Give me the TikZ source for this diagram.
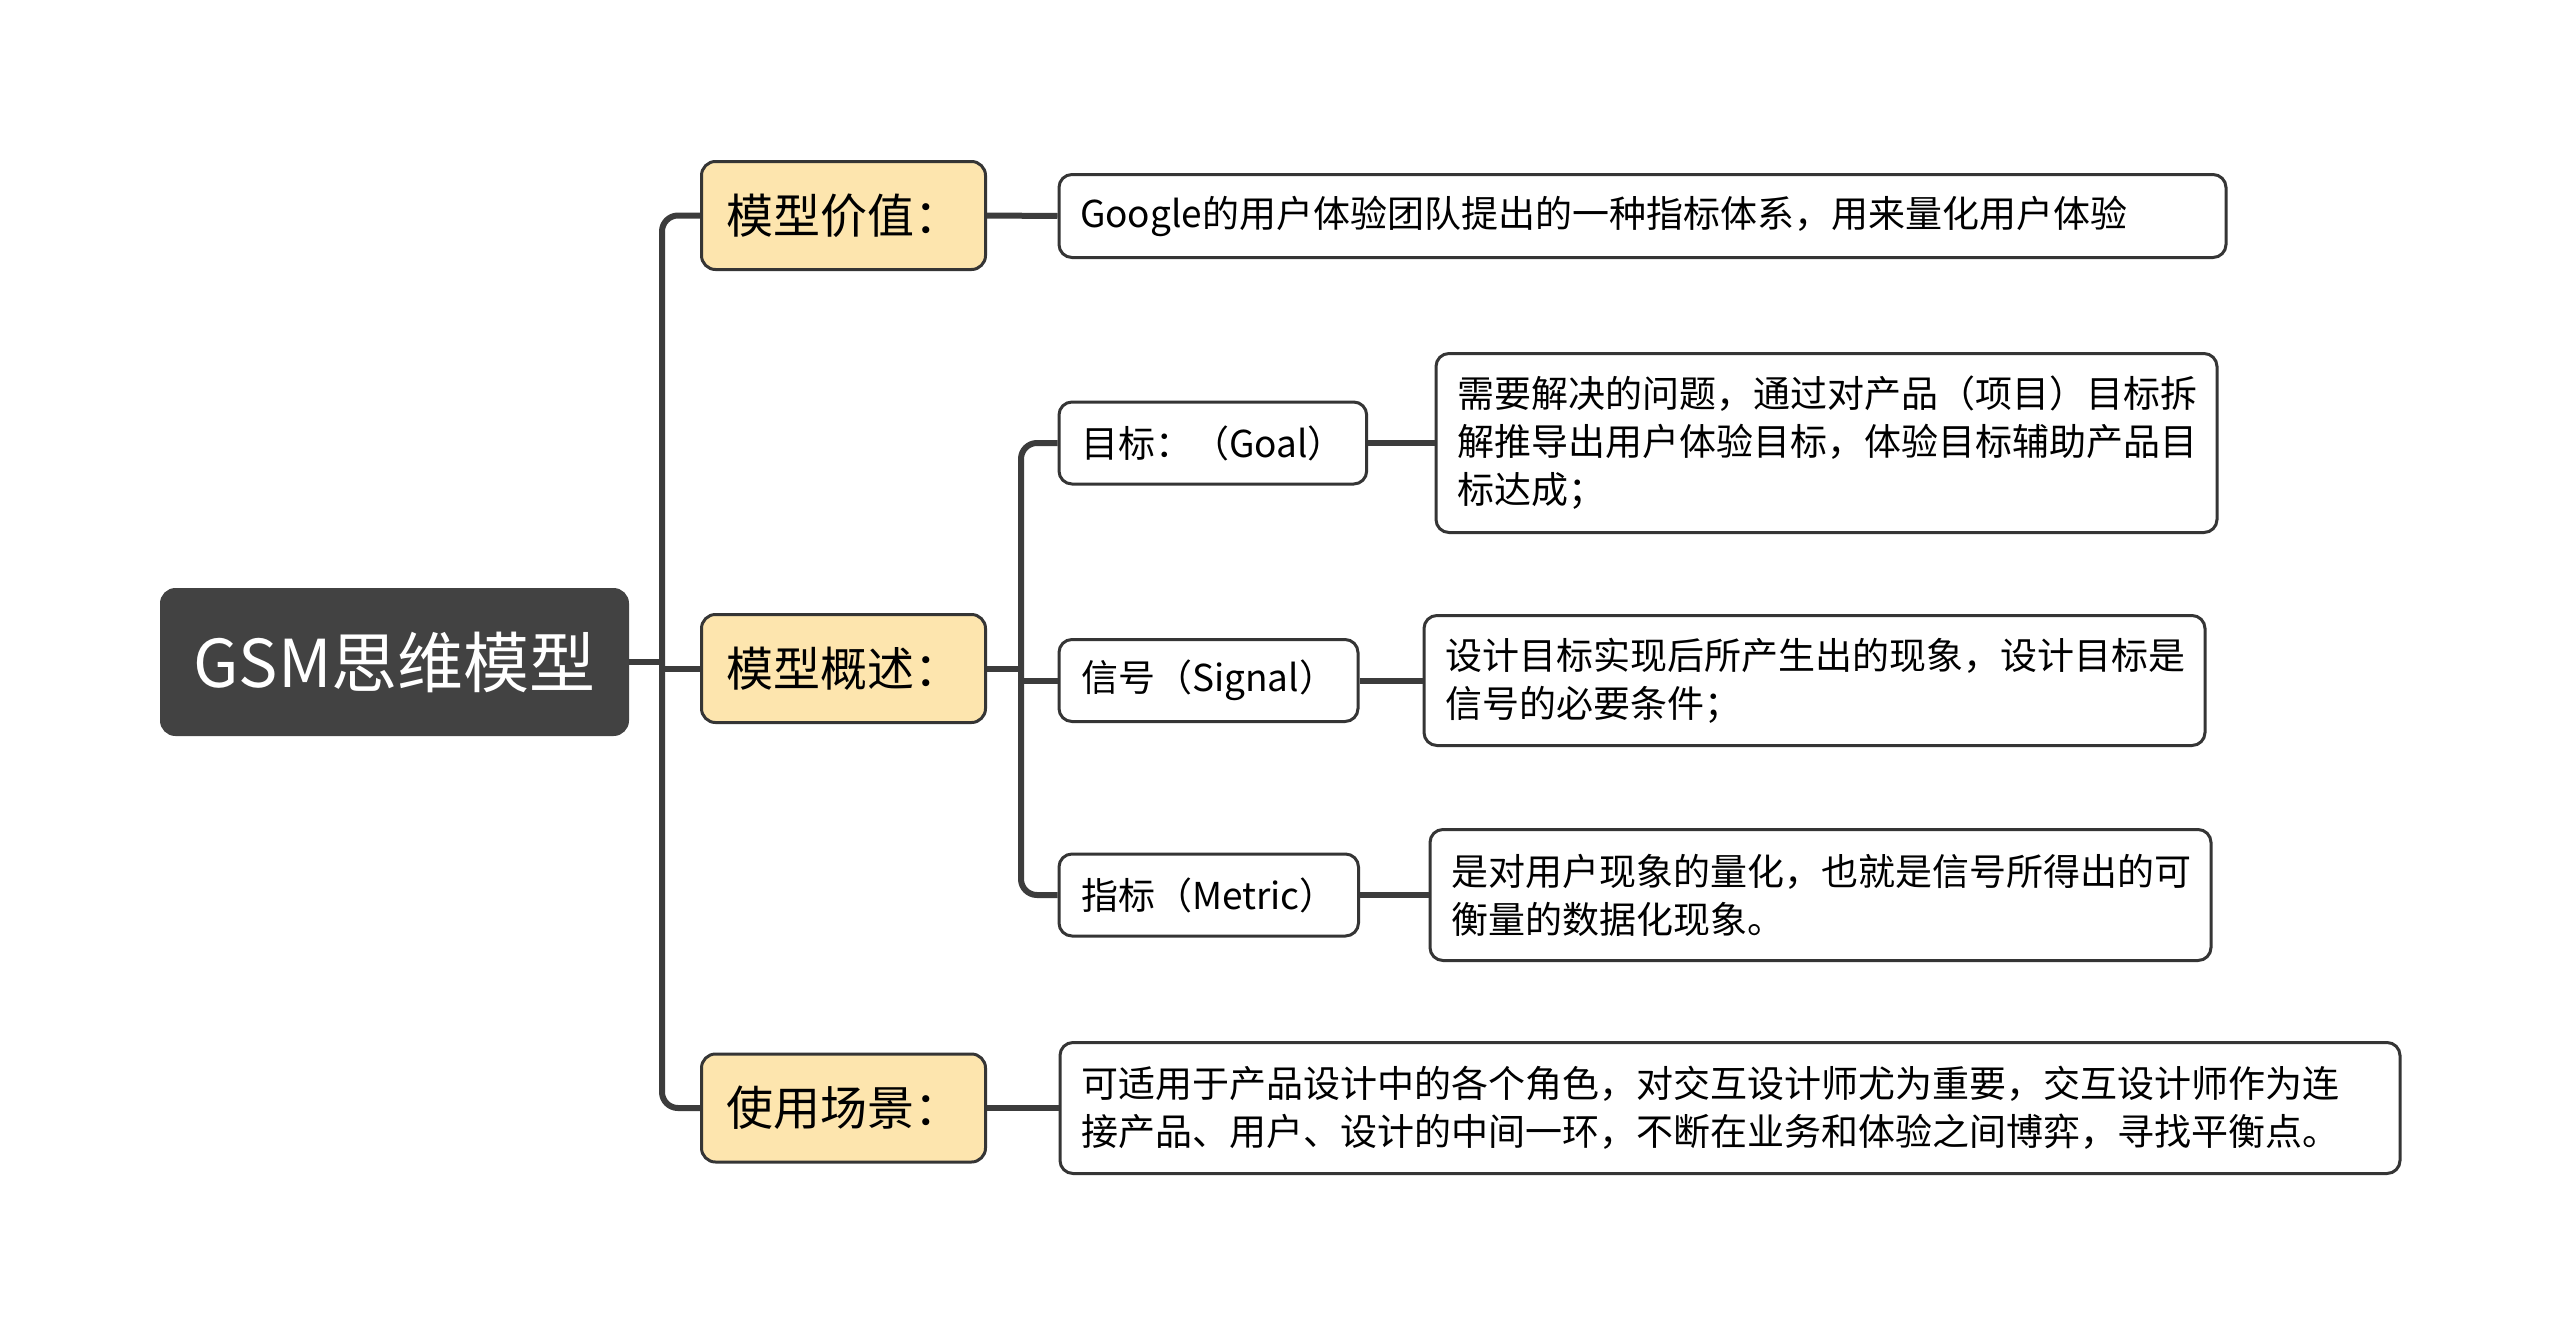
\documentclass[tikz,border=0pt]{standalone}
\usepackage{fontspec}
\setmainfont{Noto Sans CJK SC}
\definecolor{rootc}{HTML}{424242}
\definecolor{yel}{HTML}{FDE5AE}
\definecolor{borderc}{HTML}{353535}
\definecolor{linec}{HTML}{3C3C3C}
\begin{document}
\begin{tikzpicture}[x=1pt,y=-1pt,
  conn/.style={draw=linec, line width=6pt},
  rootbox/.style={fill=rootc, draw=rootc, line width=3pt, rounded corners=14pt, text=white,
    font=\fontsize{66}{80}\selectfont, minimum width=466pt, minimum height=145pt, inner sep=0pt},
  lonebox/.style={fill=yel, draw=borderc, line width=3pt, rounded corners=14pt,
    font=\fontsize{47}{56}\selectfont, minimum width=284pt, minimum height=108pt, inner xsep=22pt, inner ysep=0pt, anchor=west},
  ltwobox/.style={fill=white, draw=borderc, line width=3pt, rounded corners=13pt,
    font=\fontsize{37}{48}\selectfont, minimum height=82pt, inner xsep=22pt, inner ysep=0pt, anchor=west},
  descbox/.style={fill=white, draw=borderc, line width=3pt, rounded corners=13pt,
    font=\fontsize{37}{48}\selectfont, align=left, anchor=west, inner xsep=21pt, inner ysep=0pt}
]
\useasboundingbox[fill=white] (0,0) rectangle (2560,1336);

\node[rootbox] (root) at (394.5,662) {GSM思维模型};

\node[lonebox] (v1) at (700,215.5) {模型价值：};
\node[lonebox] (o1) at (700,668.5) {模型概述：};
\node[lonebox] (u1) at (700,1108) {使用场景：};

\node[descbox, text width=1125pt, minimum height=83pt] (vd) at (1057.5,216)
  {Google的用户体验团队提出的一种指标体系，用来量化用户体验};

\node[ltwobox] (g) at (1057.5,443) {目标：（Goal）};
\node[ltwobox] (s) at (1057.5,680.5) {信号（Signal）};
\node[ltwobox] (m) at (1057.5,895) {指标（Metric）};

\node[descbox, text width=739pt, minimum height=179pt] (gd) at (1434.5,443)
  {需要解决的问题，通过对产品（项目）目标拆\\解推导出用户体验目标，体验目标辅助产品目\\标达成；};
\node[descbox, text width=739pt, minimum height=130pt] (sd) at (1422.5,680.5)
  {设计目标实现后所产生出的现象，设计目标是\\信号的必要条件；};
\node[descbox, text width=739pt, minimum height=131pt] (md) at (1428.5,895)
  {是对用户现象的量化，也就是信号所得出的可\\衡量的数据化现象。};
\node[descbox, text width=1298pt, minimum height=131pt] (ud) at (1058.5,1108)
  {可适用于产品设计中的各个角色，对交互设计师尤为重要，交互设计师作为连\\接产品、用户、设计的中间一环，不断在业务和体验之间博弈，寻找平衡点。};

\coordinate (j1) at (662,662);
\coordinate (j2) at (1021,680.5);

\draw[conn] (root.east) -- (j1);
\draw[conn, rounded corners=16pt] (v1.west) -| (j1) |- (u1.west);
\draw[conn] (j1 |- o1.west) -- (o1.west);
\draw[conn] (o1.east) -- (j2 |- o1.east);
\draw[conn, rounded corners=16pt] (g.west) -| (j2) |- (m.west);
\draw[conn] (j2) -- (s.west);

\draw[conn] (v1.east) -- (vd.west);
\draw[conn] (g.east) -- (gd.west);
\draw[conn] (s.east) -- (sd.west);
\draw[conn] (m.east) -- (md.west);
\draw[conn] (u1.east) -- (ud.west);
\end{tikzpicture}
\end{document}
